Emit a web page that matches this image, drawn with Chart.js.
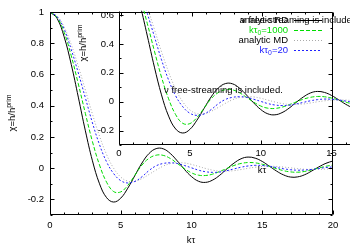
<!DOCTYPE html>
<html>
<head>
<meta charset="utf-8">
<script src="https://cdn.jsdelivr.net/npm/chart.js@4"></script>
<style>
  body { margin: 0; background: #fff; }
  #wrap { position: relative; width: 350px; height: 245px; overflow: hidden; }
  #wrap canvas { position: absolute; left: 0; top: 0; }
</style>
</head>
<body>
<div id="wrap">
  <canvas id="mainChart" width="350" height="245"></canvas>
  <canvas id="insetChart" width="350" height="245"></canvas>
</div>
<script>
// values, kτ = 0 .. 20 every 0.5
const kt = [0, 0.5, 1, 1.5, 2, 2.5, 3, 3.5, 4, 4.5, 5, 5.5, 6, 6.5, 7, 7.5, 8, 8.5, 9, 9.5,
            10, 10.5, 11, 11.5, 12, 12.5, 13, 13.5, 14, 14.5, 15, 15.5, 16, 16.5, 17, 17.5, 18, 18.5, 19, 19.5, 20];
const analyticRD = [1, 0.959, 0.841, 0.665, 0.455, 0.239, 0.047, -0.100, -0.189, -0.217,
                    -0.192, -0.128, -0.047, 0.033, 0.094, 0.125, 0.124, 0.094, 0.046, -0.008,
                    -0.054, -0.084, -0.091, -0.076, -0.045, -0.005, 0.032, 0.060, 0.071, 0.064,
                    0.043, 0.013, -0.018, -0.043, -0.057, -0.056, -0.042, -0.018, 0.008, 0.031, 0.046];
const k1000 = [1, 0.965, 0.87, 0.72, 0.54, 0.35, 0.17, 0.02, -0.09, -0.15,
               -0.152, -0.11, -0.045, 0.02, 0.063, 0.083, 0.082, 0.062, 0.03, -0.003,
               -0.03, -0.045, -0.047, -0.038, -0.021, -0.002, 0.017, 0.03, 0.036, 0.034,
               0.025, 0.012, -0.003, -0.016, -0.024, -0.026, -0.021, -0.011, 0.001, 0.012, 0.02];
const analyticMD = [1, 0.975, 0.904, 0.792, 0.653, 0.500, 0.346, 0.205, 0.087, -0.001,
                    -0.057, -0.083, -0.084, -0.067, -0.040, -0.012, 0.013, 0.029, 0.035, 0.033,
                    0.024, 0.011, -0.002, -0.013, -0.019, -0.019, -0.016, -0.009, -0.001, 0.006,
                    0.011, 0.012, 0.011, 0.007, 0.002, -0.003, -0.007, -0.008, -0.008, -0.006, -0.003];
const k20 = [1, 0.97, 0.89, 0.76, 0.61, 0.45, 0.29, 0.15, 0.04, -0.035,
             -0.08, -0.095, -0.085, -0.055, -0.015, 0.015, 0.03, 0.034, 0.03, 0.017,
             0.002, -0.013, -0.023, -0.027, -0.025, -0.016, -0.005, 0.006, 0.014, 0.018,
             0.017, 0.012, 0.004, -0.004, -0.01, -0.013, -0.012, -0.008, -0.002, 0.004, 0.008];

// tick labels
const mainXTicks = [0, 5, 10, 15, 20];
const mainYTicks = [-0.2, 0, 0.2, 0.4, 0.6, 0.8, 1];
const insetXTicks = [0, 5, 10, 15];
const insetYTicks = [-0.2, 0, 0.2, 0.4, 0.6];

const FONT = "'Liberation Sans', Arial, sans-serif";
const FS = 9.5;

function points(arr) {
  return kt.map((x, i) => ({ x: x, y: arr[i] }));
}

function makeDatasets() {
  return [
    { label: 'analytic RD', data: points(analyticRD), borderColor: '#000000', borderWidth: 1, order: 3 },
    { label: 'kτ0=1000', data: points(k1000), borderColor: '#00dd00', borderWidth: 1, borderDash: [4, 2], order: 2 },
    { label: 'analytic MD', data: points(analyticMD), borderColor: '#aaaaaa', borderWidth: 1, borderDash: [1, 2], order: 1 },
    { label: 'kτ0=20', data: points(k20), borderColor: '#2020ff', borderWidth: 1, borderDash: [2, 2], order: 0 }
  ];
}

// text with sub/superscripts
function richText(ctx, parts, x, y, align) {
  let w = 0;
  parts.forEach(p => {
    ctx.font = (p.s ? FS * 0.72 : FS) + 'px ' + FONT;
    p.w = ctx.measureText(p.t).width;
    w += p.w;
  });
  let cx = align === 'right' ? x - w : align === 'center' ? x - w / 2 : x;
  ctx.textAlign = 'left';
  ctx.textBaseline = 'middle';
  parts.forEach(p => {
    ctx.font = (p.s ? FS * 0.72 : FS) + 'px ' + FONT;
    const dy = p.s === 'sub' ? FS * 0.3 : p.s === 'sup' ? -FS * 0.35 : 0;
    ctx.fillText(p.t, cx, y + dy);
    cx += p.w;
  });
}

const yTitle = [{ t: 'χ=h/h' }, { t: 'prim', s: 'sup' }];

function verticalTitle(ctx, x, y) {
  ctx.save();
  ctx.translate(x, y);
  ctx.rotate(-Math.PI / 2);
  ctx.fillStyle = '#000';
  richText(ctx, yTitle, 0, 0, 'center');
  ctx.restore();
}

// border and inward ticks, gnuplot style
function drawFrame(chart, o) {
  const { ctx, chartArea: a } = chart;
  const xs = chart.scales.x, ys = chart.scales.y;
  ctx.save();
  ctx.strokeStyle = '#000';
  ctx.lineWidth = 1;
  ctx.beginPath();
  const L = Math.round(a.left) + 0.5, R = Math.round(a.right) - 0.5;
  const T = Math.round(a.top) + 0.5, B = Math.round(a.bottom) - 0.5;
  ctx.moveTo(L, T); ctx.lineTo(L, B); ctx.lineTo(R + (o.right ? 0 : 1), B);
  if (o.right) { ctx.lineTo(R, T); }
  if (o.top) { ctx.moveTo(L, T); ctx.lineTo(R, T); }
  for (let i = 0; ; i++) {
    const v = xs.min + i * o.xMinor;
    if (v > xs.max + 1e-9) break;
    const px = Math.round(xs.getPixelForValue(v)) + 0.5;
    const len = Math.abs(v / o.xMajor - Math.round(v / o.xMajor)) < 1e-6 ? 4 : 2;
    ctx.moveTo(px, B); ctx.lineTo(px, B - len);
    if (o.top) { ctx.moveTo(px, T); ctx.lineTo(px, T + len); }
  }
  for (let i = 0; ; i++) {
    const v = ys.min + i * o.yMinor;
    if (v > ys.max + 1e-9) break;
    const py = Math.round(ys.getPixelForValue(v)) + 0.5;
    const len = Math.abs(v / o.yMajor - Math.round(v / o.yMajor)) < 1e-6 ? 4 : 2;
    ctx.moveTo(L, py); ctx.lineTo(L + len, py);
    if (o.right) { ctx.moveTo(R, py); ctx.lineTo(R - len, py); }
  }
  ctx.stroke();
  ctx.restore();
}

function makeOptions(cfg) {
  return {
    responsive: false,
    animation: false,
    events: [],
    layout: { padding: cfg.padding },
    elements: { point: { radius: 0 }, line: { tension: 0.4, fill: false } },
    plugins: { legend: { display: false }, tooltip: { enabled: false } },
    scales: {
      x: {
        type: 'linear', min: cfg.xMin, max: cfg.xMax,
        grid: { display: false, drawTicks: false },
        border: { display: false },
        afterFit: s => { s.height = cfg.xHeight; },
        afterBuildTicks: s => { s.ticks = cfg.xTicks.map(v => ({ value: v })); },
        ticks: { padding: cfg.xPad, color: '#000', font: { family: FONT, size: FS }, maxRotation: 0,
                 callback: v => String(v) }
      },
      y: {
        type: 'linear', min: cfg.yMin, max: cfg.yMax,
        grid: { display: false, drawTicks: false },
        border: { display: false },
        afterFit: s => { s.width = cfg.yWidth; },
        afterBuildTicks: s => { s.ticks = cfg.yTicks.map(v => ({ value: v })); },
        ticks: { padding: cfg.yPad, color: '#000', font: { family: FONT, size: FS },
                 callback: v => String(Math.round(v * 10) / 10) }
      }
    }
  };
}

// main plot
new Chart(document.getElementById('mainChart'), {
  type: 'line',
  data: { datasets: makeDatasets() },
  options: makeOptions({
    padding: { top: 12, right: 17, left: 0, bottom: 0 },
    xMin: 0, xMax: 20, yMin: -0.3, yMax: 1,
    xHeight: 30, yWidth: 50, xPad: 5, yPad: 6,
    xTicks: mainXTicks, yTicks: mainYTicks
  }),
  plugins: [{
    id: 'mainDecor',
    afterDraw(chart) {
      const ctx = chart.ctx;
      drawFrame(chart, { top: true, right: true, xMinor: 1, xMajor: 5, yMinor: 0.1, yMajor: 0.2 });
      ctx.save();
      ctx.fillStyle = '#000';
      richText(ctx, [{ t: 'kτ' }], 191, 240, 'center');
      ctx.restore();
      verticalTitle(ctx, 12, 113);
    }
  }]
});

// inset plot, same scale, shifted
new Chart(document.getElementById('insetChart'), {
  type: 'line',
  data: { datasets: makeDatasets() },
  options: makeOptions({
    padding: { top: 0, right: 0, left: 0, bottom: 0 },
    xMin: 0, xMax: 16.3, yMin: -0.3, yMax: 0.63,
    xHeight: 100, yWidth: 119, xPad: 3, yPad: 5,
    xTicks: insetXTicks, yTicks: insetYTicks
  }),
  plugins: [{
    id: 'insetDecor',
    afterDraw(chart) {
      const ctx = chart.ctx;
      drawFrame(chart, { top: false, right: false, xMinor: 1, xMajor: 5, yMinor: 0.1, yMajor: 0.2 });
      ctx.save();
      ctx.fillStyle = '#000';
      richText(ctx, [{ t: 'kτ' }], 262, 170, 'center');
      richText(ctx, [{ t: 'ν free-streaming is included.' }], 164, 90, 'left');
      richText(ctx, [{ t: 'ν free-streaming is included' }], 241, 20, 'left');
      // key
      const keyRows = [
        { parts: [{ t: 'analytic RD' }], color: '#000', ds: 0 },
        { parts: [{ t: 'kτ' }, { t: '0', s: 'sub' }, { t: '=1000' }], color: '#00dd00', ds: 1 },
        { parts: [{ t: 'analytic MD' }], color: '#000', ds: 2 },
        { parts: [{ t: 'kτ' }, { t: '0', s: 'sub' }, { t: '=20' }], color: '#2020ff', ds: 3 }
      ];
      keyRows.forEach((r, i) => {
        const y = 20 + i * 10;
        ctx.fillStyle = r.color;
        richText(ctx, r.parts, 288, y, 'right');
        const ds = chart.data.datasets[r.ds];
        ctx.strokeStyle = ds.borderColor;
        ctx.lineWidth = 1;
        ctx.setLineDash(ds.borderDash || []);
        ctx.beginPath();
        ctx.moveTo(294, Math.round(y) + 0.5);
        ctx.lineTo(322, Math.round(y) + 0.5);
        ctx.stroke();
        ctx.setLineDash([]);
      });
      ctx.restore();
      verticalTitle(ctx, 83, 43);
    }
  }]
});
</script>
</body>
</html>
